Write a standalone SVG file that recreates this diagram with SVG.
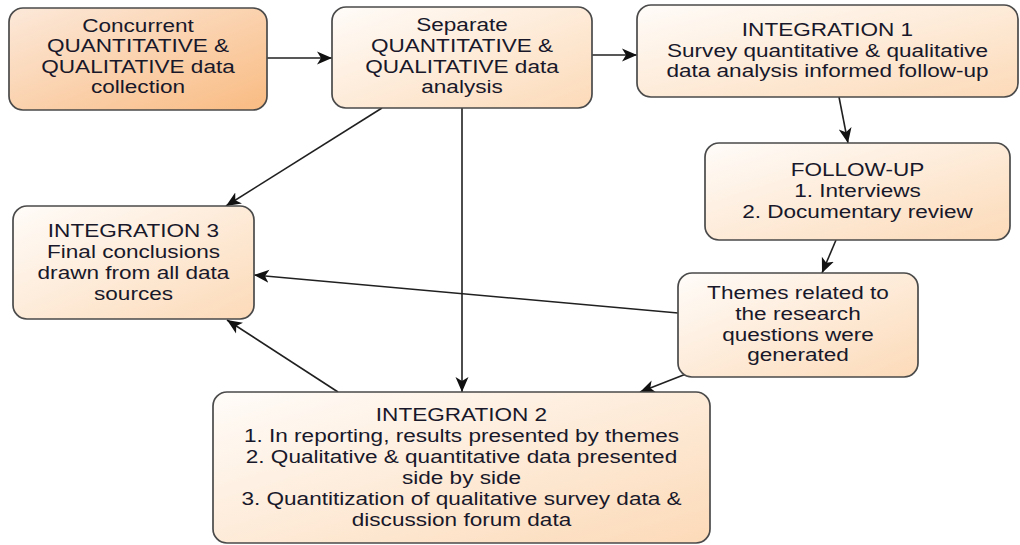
<svg xmlns="http://www.w3.org/2000/svg" width="1020" height="545" viewBox="0 0 1020 545">
  <style>
    .box { stroke: #4a4a4a; stroke-width: 1.7; }
    .lbl { font-family: "Liberation Sans", Arial, sans-serif; font-size: 18.5px; fill: #18182a; text-anchor: middle; }
    .edge { stroke: #202020; stroke-width: 1.6; fill: none; marker-end: url(#arrow); }
  </style>
  <defs>
    <linearGradient id="fillStart" x1="0" y1="0" x2="1" y2="1">
      <stop offset="0" stop-color="#fce9da"/>
      <stop offset="1" stop-color="#f9bb82"/>
    </linearGradient>
    <linearGradient id="fillStep" x1="0" y1="0" x2="1" y2="1">
      <stop offset="0" stop-color="#fffcf9"/>
      <stop offset="1" stop-color="#fcdab8"/>
    </linearGradient>
    <marker id="arrow" markerUnits="userSpaceOnUse" markerWidth="16" markerHeight="14" refX="15" refY="7" orient="auto">
      <path d="M0,0.5 L15,7 L0,13.5 L4,7 Z" fill="#111"/>
    </marker>
  </defs>

  <!-- connectors -->
  <g id="connectors">
    <line class="edge" x1="267" y1="58" x2="332" y2="58"/>
    <line class="edge" x1="592" y1="55" x2="637" y2="55"/>
    <line class="edge" x1="839" y1="97" x2="848" y2="143"/>
    <line class="edge" x1="836" y1="240" x2="822" y2="273"/>
    <line class="edge" x1="678" y1="313" x2="254" y2="275"/>
    <line class="edge" x1="382" y1="108" x2="226" y2="206"/>
    <line class="edge" x1="462" y1="108" x2="462" y2="392"/>
    <line class="edge" x1="686" y1="374" x2="640" y2="392"/>
    <line class="edge" x1="338" y1="392" x2="227" y2="320"/>
  </g>

  <!-- data collection -->
  <g id="collection">
    <rect class="box" x="9" y="8" width="258" height="102" rx="14" fill="url(#fillStart)"/>
    <g transform="translate(138 0) scale(1.22 1)">
      <text class="lbl" x="0" y="32">Concurrent</text>
      <text class="lbl" x="0" y="52.5">QUANTITATIVE &amp;</text>
      <text class="lbl" x="0" y="73">QUALITATIVE data</text>
      <text class="lbl" x="0" y="93.5">collection</text>
    </g>
  </g>

  <!-- separate analysis -->
  <g id="analysis">
    <rect class="box" x="332" y="7" width="260" height="101" rx="14" fill="url(#fillStep)"/>
    <g transform="translate(462 0) scale(1.22 1)">
      <text class="lbl" x="0" y="31.5">Separate</text>
      <text class="lbl" x="0" y="52.5">QUANTITATIVE &amp;</text>
      <text class="lbl" x="0" y="73">QUALITATIVE data</text>
      <text class="lbl" x="0" y="93">analysis</text>
    </g>
  </g>

  <!-- integration 1 -->
  <g id="integration1">
    <rect class="box" x="637" y="5" width="381" height="92" rx="14" fill="url(#fillStep)"/>
    <g transform="translate(827.5 0) scale(1.22 1)">
      <text class="lbl" x="0" y="36.5">INTEGRATION 1</text>
      <text class="lbl" x="0" y="57">Survey quantitative &amp; qualitative</text>
      <text class="lbl" x="0" y="77.5">data analysis informed follow-up</text>
    </g>
  </g>

  <!-- follow-up -->
  <g id="followup">
    <rect class="box" x="705" y="143" width="305" height="97" rx="14" fill="url(#fillStep)"/>
    <g transform="translate(857.5 0) scale(1.22 1)">
      <text class="lbl" x="0" y="176">FOLLOW-UP</text>
      <text class="lbl" x="0" y="197">1. Interviews</text>
      <text class="lbl" x="0" y="218">2. Documentary review</text>
    </g>
  </g>

  <!-- themes -->
  <g id="themes">
    <rect class="box" x="678" y="273" width="240" height="104" rx="14" fill="url(#fillStep)"/>
    <g transform="translate(798 0) scale(1.22 1)">
      <text class="lbl" x="0" y="299">Themes related to</text>
      <text class="lbl" x="0" y="320">the research</text>
      <text class="lbl" x="0" y="341">questions were</text>
      <text class="lbl" x="0" y="361.5">generated</text>
    </g>
  </g>

  <!-- integration 3 -->
  <g id="integration3">
    <rect class="box" x="13" y="206" width="241" height="113" rx="14" fill="url(#fillStep)"/>
    <g transform="translate(133.5 0) scale(1.22 1)">
      <text class="lbl" x="0" y="237">INTEGRATION 3</text>
      <text class="lbl" x="0" y="258">Final conclusions</text>
      <text class="lbl" x="0" y="279">drawn from all data</text>
      <text class="lbl" x="0" y="300">sources</text>
    </g>
  </g>

  <!-- integration 2 -->
  <g id="integration2">
    <rect class="box" x="213" y="392" width="497" height="151" rx="14" fill="url(#fillStep)"/>
    <g transform="translate(461.5 0) scale(1.22 1)">
      <text class="lbl" x="0" y="421">INTEGRATION 2</text>
      <text class="lbl" x="0" y="442">1. In reporting, results presented by themes</text>
      <text class="lbl" x="0" y="463">2. Qualitative &amp; quantitative data presented</text>
      <text class="lbl" x="0" y="484">side by side</text>
      <text class="lbl" x="0" y="505">3. Quantitization of qualitative survey data &amp;</text>
      <text class="lbl" x="0" y="526">discussion forum data</text>
    </g>
  </g>
</svg>
